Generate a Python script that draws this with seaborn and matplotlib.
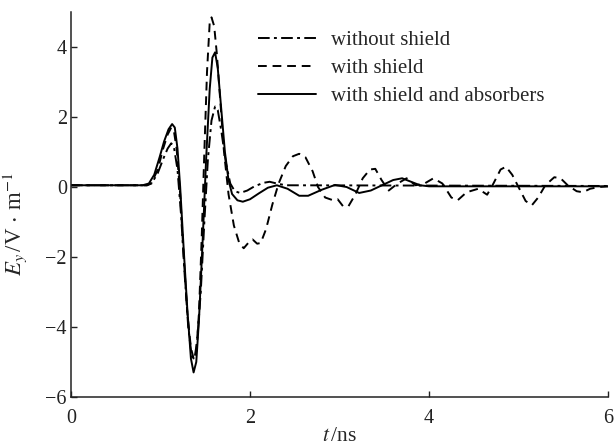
import pandas as pd
import seaborn as sns
import matplotlib
matplotlib.use("Agg")
import matplotlib.pyplot as plt

# values (t in ns, E_y in V/m)
t_noshield = [0.0, 0.85, 0.9, 0.97, 1.03, 1.08, 1.12, 1.15, 1.19, 1.23, 1.27, 1.31, 1.35, 1.38,
              1.41, 1.45, 1.49, 1.53, 1.57, 1.61, 1.64, 1.68, 1.73, 1.78, 1.83, 1.89, 1.97,
              2.05, 2.15, 2.22, 2.3, 2.4, 6.0]
e_noshield = [0.05, 0.05, 0.1, 0.4, 0.8, 1.1, 1.25, 1.15, 0.5, -0.8, -2.5, -4.0, -4.85, -4.9,
              -4.4, -3.0, -1.0, 0.8, 1.9, 2.3, 2.2, 1.6, 0.7, 0.1, -0.12, -0.17, -0.1,
              0.02, 0.12, 0.15, 0.1, 0.05, 0.03]

t_shield = [0.0, 0.85, 0.9, 0.97, 1.03, 1.08, 1.12, 1.15, 1.18, 1.22, 1.26, 1.3, 1.34, 1.37,
            1.4, 1.43, 1.46, 1.49, 1.52, 1.55, 1.57, 1.6, 1.63, 1.67, 1.71, 1.76, 1.82, 1.88,
            1.93, 1.98, 2.03, 2.08, 2.12, 2.18, 2.25, 2.32, 2.4, 2.48, 2.55, 2.62, 2.7, 2.76,
            2.84, 2.93, 2.98, 3.04, 3.1, 3.18, 3.26, 3.34, 3.4, 3.47, 3.55, 3.65, 3.75, 3.85,
            3.95, 4.05, 4.15, 4.25, 4.32, 4.42, 4.55, 4.65, 4.72, 4.8, 4.86, 4.93, 5.0, 5.08,
            5.15, 5.22, 5.3, 5.4, 5.47, 5.55, 5.65, 5.72, 5.8, 5.9, 6.0]
e_shield = [0.05, 0.05, 0.12, 0.5, 1.1, 1.5, 1.7, 1.6, 1.1, -0.2, -2.0, -3.6, -4.6, -4.9,
            -4.7, -3.6, -1.5, 1.0, 3.3, 4.7, 4.85, 4.6, 3.8, 2.4, 1.0, -0.2, -1.1, -1.6,
            -1.75, -1.6, -1.5, -1.62, -1.6, -1.2, -0.5, 0.1, 0.6, 0.88, 0.95, 0.85, 0.45, 0.0,
            -0.3, -0.38, -0.35, -0.55, -0.55, -0.2, 0.25, 0.5, 0.52, 0.2, -0.1, 0.1, 0.25, 0.05,
            0.1, 0.25, 0.1, -0.3, -0.38, -0.15, -0.05, -0.22, 0.1, 0.5, 0.58, 0.35, 0.0, -0.4,
            -0.52, -0.3, 0.05, 0.28, 0.25, 0.05, -0.12, -0.15, -0.05, 0.0, 0.02]

t_absorb = [0.0, 0.8, 0.87, 0.93, 0.99, 1.04, 1.09, 1.13, 1.16, 1.19, 1.22, 1.26, 1.3, 1.34,
            1.37, 1.4, 1.43, 1.47, 1.51, 1.55, 1.58, 1.61, 1.64, 1.68, 1.72, 1.76, 1.8, 1.86,
            1.92, 2.0, 2.1, 2.2, 2.3, 2.42, 2.55, 2.65, 2.8, 2.95, 3.08, 3.22, 3.35, 3.5, 3.6,
            3.7, 3.8, 3.9, 4.0, 6.0]
e_absorb = [0.05, 0.05, 0.1, 0.35, 0.85, 1.3, 1.65, 1.8, 1.7, 1.1, 0.0, -1.8, -3.5, -4.9,
            -5.3, -5.0, -3.8, -1.6, 0.8, 2.8, 3.7, 3.85, 3.4, 2.2, 1.0, 0.2, -0.2, -0.38,
            -0.42, -0.35, -0.18, -0.02, 0.05, -0.05, -0.25, -0.25, -0.08, 0.06, 0.0, -0.17, -0.1, 0.08, 0.2,
            0.25, 0.15, 0.05, 0.02, 0.02]

labels = ["without shield", "with shield", "with shield and absorbers"]

sns.set_style("ticks")
plt.rcParams["font.family"] = ["Liberation Serif", "DejaVu Serif"]
plt.rcParams["mathtext.fontset"] = "stix"
plt.rcParams["xtick.direction"] = "in"
plt.rcParams["ytick.direction"] = "in"

fig = plt.figure(figsize=(6.14, 4.48), dpi=100)
ax = fig.add_axes([0.1156, 0.114, 0.8746, 0.859])

lw = 1.4
sns.lineplot(x=t_noshield, y=e_noshield, ax=ax, color="black", lw=lw,
             label=labels[0], sort=False)
ax.lines[-1].set_dashes([6, 2.2, 1.5, 2.2])
sns.lineplot(x=t_shield, y=e_shield, ax=ax, color="black", lw=lw,
             label=labels[1], sort=False)
ax.lines[-1].set_dashes([4.5, 3])
sns.lineplot(x=t_absorb, y=e_absorb, ax=ax, color="black", lw=lw,
             label=labels[2], sort=False)

ax.set_xlim(0, 6)
ax.set_ylim(-6, 5)
ax.set_xticks([0, 2, 4, 6])
ax.set_yticks([-6, -4, -2, 0, 2, 4])
ax.tick_params(labelsize=14.5, length=4, width=1, colors="#222222")
ax.tick_params(axis="x", pad=9)
ax.tick_params(axis="y", pad=3)
for s in ["left", "bottom"]:
    ax.spines[s].set_linewidth(1.1)
    ax.spines[s].set_color("#222222")
sns.despine(ax=ax)

ax.set_xlabel(r"$t\,$/ns", fontsize=15.5)
ax.xaxis.set_label_coords(0.5, -0.078)
ax.xaxis.label.set_va("top")
ax.set_ylabel(r"$E_y\,$/V$\,\cdot\,$m$^{-1}$", fontsize=16.5)
ax.yaxis.set_label_coords(-0.078, 0.45)

ax.legend(loc="upper left", bbox_to_anchor=(0.348, 0.952), frameon=False,
          fontsize=15, handlelength=2.8, handletextpad=0.7, labelspacing=0.4,
          borderpad=0, borderaxespad=0)

fig.savefig("out.png", dpi=100)
